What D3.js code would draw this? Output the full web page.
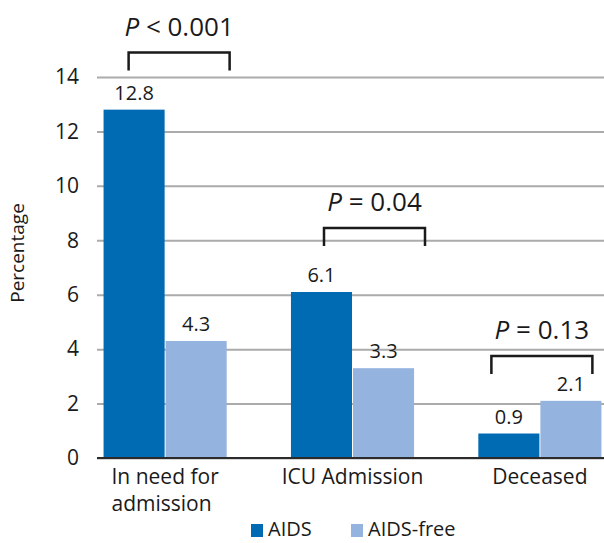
<!DOCTYPE html>
<html>
<head>
<meta charset="utf-8">
<script src="https://cdn.jsdelivr.net/npm/d3@7"></script>
<style>
  body { margin: 0; background: #fff; }
  svg text { font-family: "Open Sans", sans-serif; fill: #1a1a1a; }
</style>
</head>
<body>
<div id="chart"></div>
<script>
// data
const categories = ["In need for admission", "ICU Admission", "Deceased"];
const categoryLines = [["In need for", "admission"], ["ICU Admission"], ["Deceased"]];
const series = ["AIDS", "AIDS-free"];
const aidsValues = [12.8, 6.1, 0.9];
const aidsFreeValues = [4.3, 3.3, 2.1];
const pLabels = ["< 0.001", "= 0.04", "= 0.13"];
const pLevels = [14.9, 8.45, 3.75];   // bracket top, in percentage units
const yTicks = [0, 2, 4, 6, 8, 10, 12, 14];

const colors = {"AIDS": "#006ab2", "AIDS-free": "#95b3df"};

// bracket placement tweaks (px from group centre)
const bracketShift = [14, 22, 2];
const bracketWidth = 101;
const bracketDrop = 18;

const W = 604, H = 543;
const left = 97, right = 604, y0 = 458;

const svg = d3.select("#chart").append("svg")
    .attr("width", W)
    .attr("height", H);

const x = d3.scaleBand()
    .domain(categories)
    .range([left, 608])
    .paddingInner(0.343)
    .paddingOuter(0.035);

const xInner = d3.scaleBand()
    .domain(series)
    .range([0, x.bandwidth()])
    .paddingInner(0.016);

const y = d3.scaleLinear()
    .domain([0, 14])
    .range([y0, 77]);

// grid + y axis
const yAxis = d3.axisLeft(y)
    .tickValues(yTicks)
    .tickSize(-(right - left))
    .tickPadding(18);

const gy = svg.append("g")
    .attr("transform", `translate(${left},0)`)
    .call(yAxis);
gy.select(".domain").remove();
gy.selectAll(".tick line")
    .attr("stroke", "#ababab")
    .attr("stroke-width", 2);
gy.selectAll(".tick text")
    .style("font-size", "21px")
    .attr("fill", "#1a1a1a");

// y label
svg.append("text")
    .attr("transform", `translate(24,253) rotate(-90)`)
    .attr("text-anchor", "middle")
    .style("font-size", "19px")
    .text("Percentage");

// bars
const rows = categories.map((c, i) => ({
    cat: c,
    vals: [
        {key: "AIDS", value: aidsValues[i]},
        {key: "AIDS-free", value: aidsFreeValues[i]}
    ]
}));

const groups = svg.append("g").selectAll("g")
    .data(rows)
    .join("g")
    .attr("transform", d => `translate(${x(d.cat)},0)`);

groups.selectAll("rect")
    .data(d => d.vals)
    .join("rect")
    .attr("x", d => xInner(d.key))
    .attr("y", d => y(d.value))
    .attr("width", xInner.bandwidth())
    .attr("height", d => y0 - y(d.value))
    .attr("fill", d => colors[d.key]);

groups.selectAll("text.val")
    .data(d => d.vals)
    .join("text")
    .attr("class", "val")
    .attr("x", d => xInner(d.key) + xInner.bandwidth() / 2)
    .attr("y", d => y(d.value) - 10)
    .attr("text-anchor", "middle")
    .style("font-size", "20px")
    .text(d => d.value.toFixed(1));

// baseline
svg.append("line")
    .attr("x1", left).attr("x2", right)
    .attr("y1", y0).attr("y2", y0)
    .attr("stroke", "#2b2b2b")
    .attr("stroke-width", 2);

// category labels (block centred, lines left aligned)
categories.forEach((c, i) => {
    const cx = x(c) + x.bandwidth() / 2;
    const t = svg.append("text")
        .style("font-size", "21px");
    categoryLines[i].forEach((line, j) => {
        t.append("tspan")
            .attr("y", 484 + j * 27)
            .text(line);
    });
    const widest = d3.max(t.selectAll("tspan").nodes(), n => n.getComputedTextLength());
    t.selectAll("tspan").attr("x", cx - widest / 2);
});

// p-value brackets
categories.forEach((c, i) => {
    const cx = x(c) + x.bandwidth() / 2 + bracketShift[i];
    const top = y(pLevels[i]);
    const x1 = cx - bracketWidth / 2, x2 = cx + bracketWidth / 2;
    svg.append("path")
        .attr("d", `M${x1},${top + bracketDrop} L${x1},${top} L${x2},${top} L${x2},${top + bracketDrop}`)
        .attr("fill", "none")
        .attr("stroke", "#1a1a1a")
        .attr("stroke-width", 2.5);
    const t = svg.append("text")
        .attr("x", cx)
        .attr("y", top - 17)
        .attr("text-anchor", "middle")
        .style("font-size", "26px");
    t.append("tspan").style("font-style", "italic").text("P");
    t.append("tspan").text(" " + pLabels[i]);
});

// legend (kept just inside the bottom edge)
const legend = svg.append("g")
    .attr("transform", "translate(251,523)");
const lx = [0, 100];
series.forEach((s, i) => {
    legend.append("rect")
        .attr("x", lx[i])
        .attr("y", 1)
        .attr("width", 12)
        .attr("height", 13)
        .attr("fill", colors[s]);
    legend.append("text")
        .attr("x", lx[i] + 17)
        .attr("y", 13)
        .style("font-size", "20px")
        .text(s);
});
</script>
</body>
</html>
